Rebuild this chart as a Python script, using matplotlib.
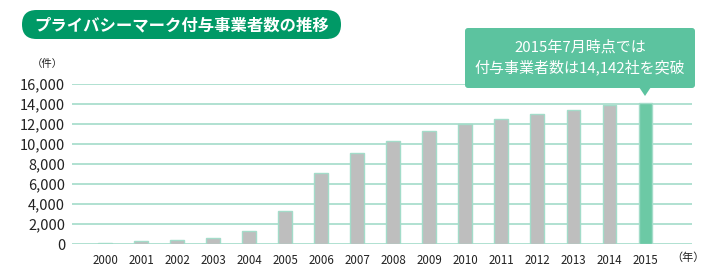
import matplotlib
matplotlib.use("Agg")
import matplotlib.pyplot as plt
from matplotlib.patches import FancyBboxPatch, Polygon

plt.rcParams['font.family'] = ['Noto Sans CJK JP', 'DejaVu Sans']

years = ["2000", "2001", "2002", "2003", "2004", "2005", "2006", "2007",
         "2008", "2009", "2010", "2011", "2012", "2013", "2014", "2015"]
counts = [150, 270, 400, 630, 1330, 3330, 7130, 9130,
          10330, 11330, 12000, 12500, 13000, 13400, 13900, 14142]
yticks = [0, 2000, 4000, 6000, 8000, 10000, 12000, 14000, 16000]
title = "プライバシーマーク付与事業者数の推移"
callout = "2015年7月時点では\n付与事業者数は14,142社を突破"
y_unit = "（件）"
x_unit = "（年）"

W, H = 720, 270
fig = plt.figure(figsize=(W / 100, H / 100), dpi=100)
ax = fig.add_axes([72 / W, (H - 244) / H, (692 - 72) / W, 160 / H])

grid_c = "#a3dcc9"
gray = "#bebebe"
green_bar = "#6cc9a5"
x = list(range(len(years)))
colors = [gray] * (len(years) - 1) + [green_bar]
ax.bar(x, counts, width=0.37, color=colors, edgecolor=grid_c, linewidth=1.0, zorder=3)

ax.set_ylim(0, 16000)
ax.set_xlim(-0.917, 15.3 + 1.0)
ax.set_yticks(yticks)
ax.set_yticklabels([f"{v:,}" for v in yticks], fontsize=10.5, color="#222222")
ax.set_xticks(x)
ax.set_xticklabels(years, fontsize=8.3, color="#222222")
ax.tick_params(axis='both', length=0)
ax.tick_params(axis='y', pad=5)
ax.tick_params(axis='x', pad=7)
for s in ax.spines.values():
    s.set_visible(False)
ax.yaxis.grid(True, color=grid_c, linewidth=1.2, zorder=1)
ax.set_axisbelow(True)

# overlay in pixel coordinates for annotations
ov = fig.add_axes([0, 0, 1, 1])
ov.set_xlim(0, W)
ov.set_ylim(H, 0)
ov.axis("off")
ov.patch.set_alpha(0)

# title pill
tb = FancyBboxPatch((22, 10), 319, 29, boxstyle="round,pad=0,rounding_size=14.5",
                    fc="#009966", ec="none")
ov.add_patch(tb)
ov.text(182, 25, title, color="white", fontsize=11.8, fontweight="bold",
        ha="center", va="center")

# callout box
cb_c = "#5cc39f"
cb = FancyBboxPatch((465, 28), 230, 60, boxstyle="round,pad=0,rounding_size=3",
                    fc=cb_c, ec="none")
ov.add_patch(cb)
ov.add_patch(Polygon([[639, 87], [651, 87], [645, 96]], closed=True, fc=cb_c, ec="none"))
ov.text(580, 58, callout, color="white", fontsize=10.8, ha="center", va="center",
        linespacing=1.4)

ov.text(47, 64, y_unit, fontsize=7.5, color="#222222", ha="center", va="center")
ov.text(688, 258, x_unit, fontsize=8, color="#222222", ha="center", va="center")

fig.savefig("out.png", dpi=100)
